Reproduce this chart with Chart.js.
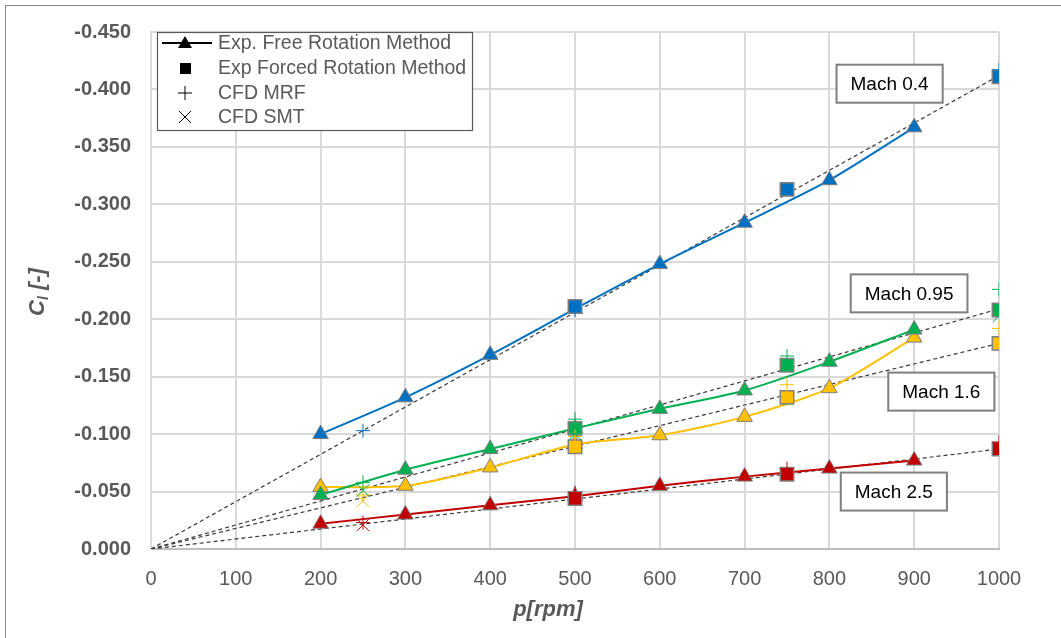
<!DOCTYPE html>
<html>
<head>
<meta charset="utf-8">
<script src="https://cdn.jsdelivr.net/npm/chart.js@4.4.0/dist/chart.umd.min.js"></script>
<style>
  html, body { margin: 0; padding: 0; background: #fff; }
  #wrap { position: relative; width: 1061px; height: 638px; }
  #frame { position: absolute; left: 5px; top: 5px; right: 0; bottom: 0; border-left: 1px solid #8c8c8c; border-top: 1px solid #8c8c8c; pointer-events: none; }
  canvas { position: absolute; left: 0; top: 0; }
</style>
</head>
<body>
<div id="wrap">
  <canvas id="chart" width="1061" height="638"></canvas>
  <div id="frame"></div>
</div>
<script>
// rpm values
const rpmFree = [200, 300, 400, 500, 600, 700, 800, 900];
const rpmForced = [500, 750, 1000];
const rpmCfd = [250, 500, 750, 1000];
const rpmTrend = [0, 1000];

// Exp. free rotation method
const freeM04 = [-0.100, -0.132, -0.169, -0.209, -0.248, -0.284, -0.321, -0.367];
const freeM095 = [-0.047, -0.069, -0.087, -0.105, -0.122, -0.138, -0.163, -0.191];
const freeM16 = [-0.054, -0.055, -0.071, -0.091, -0.099, -0.115, -0.140, -0.184];
const freeM25 = [-0.022, -0.030, -0.038, -0.046, -0.055, -0.063, -0.070, -0.077];

// Exp forced rotation method
const forcedM04 = [-0.211, -0.313, -0.411];
const forcedM095 = [-0.105, -0.160, -0.208];
const forcedM16 = [-0.089, -0.132, -0.179];
const forcedM25 = [-0.044, -0.065, -0.087];

// CFD MRF
const mrfM04 = [-0.103, -0.208, null, -0.417];
const mrfM095 = [-0.058, -0.113, -0.168, -0.226];
const mrfM16 = [-0.047, -0.098, -0.143, -0.192];
const mrfM25 = [-0.023, -0.049, -0.070, -0.093];

// CFD SMT
const smtM04 = [null, null, null, null];
const smtM095 = [-0.051, -0.100, null, -0.203];
const smtM16 = [-0.042, null, null, null];
const smtM25 = [-0.021, null, null, null];

// dashed trend lines through the origin
const trendM04 = [0, -0.412];
const trendM095 = [0, -0.209];
const trendM16 = [0, -0.179];
const trendM25 = [0, -0.087];

const machLabels = ['Mach 0.4', 'Mach 0.95', 'Mach 1.6', 'Mach 2.5'];
const yTicks = { min: -0.45, max: 0, step: 0.05 };
const xTicks = { min: 0, max: 1000, step: 100 };

const series = [
    { color: '#0070C0', free: freeM04, forced: forcedM04, mrf: mrfM04, smt: smtM04, trend: trendM04 },
    { color: '#00B050', free: freeM095, forced: forcedM095, mrf: mrfM095, smt: smtM095, trend: trendM095 },
    { color: '#FFC000', free: freeM16, forced: forcedM16, mrf: mrfM16, smt: smtM16, trend: trendM16 },
    { color: '#C00000', free: freeM25, forced: forcedM25, mrf: mrfM25, smt: smtM25, trend: trendM25 },
];

const pts = (xs, ys) => xs.map((x, i) => ({ x: x, y: ys[i] })).filter(p => p.y !== null);

const datasets = [];
series.forEach((s) => {
    datasets.push({
        data: pts(rpmTrend, s.trend), showLine: true, borderColor: '#3a3a3a', borderWidth: 1.2,
        borderDash: [4, 3], pointRadius: 0, order: 3,
    });
    datasets.push({
        data: pts(rpmFree, s.free), showLine: true, borderColor: s.color, borderWidth: 2, tension: 0.25,
        pointStyle: 'triangle', pointRadius: 9, backgroundColor: s.color, pointBorderColor: '#7f7f7f',
        pointBorderWidth: 1, order: 2,
    });
    datasets.push({
        data: pts(rpmForced, s.forced), showLine: false, pointStyle: 'rect', pointRadius: 9.5,
        backgroundColor: s.color, pointBorderColor: '#7f7f7f', pointBorderWidth: 1.5, order: 1,
    });
    datasets.push({
        data: pts(rpmCfd, s.mrf), showLine: false, pointStyle: 'cross', pointRadius: 7,
        borderColor: s.color, pointBorderWidth: 1, order: 0,
    });
    datasets.push({
        data: pts(rpmCfd, s.smt), showLine: false, pointStyle: 'crossRot', pointRadius: 9,
        borderColor: s.color, pointBorderWidth: 1, order: 0,
    });
});

const gray = '#595959';

// legend, axis titles and the Mach boxes
const extras = {
    id: 'extras',
    afterDraw(chart) {
        const ctx = chart.ctx;
        const xs = chart.scales.x;
        const ys = chart.scales.y;
        ctx.save();

        // legend box
        ctx.fillStyle = '#fff';
        ctx.fillRect(157, 32, 316, 99);
        ctx.strokeStyle = '#595959';
        ctx.lineWidth = 1.2;
        ctx.strokeRect(157.5, 32.5, 315, 98);
        const rows = ['Exp. Free Rotation Method', 'Exp Forced Rotation Method', 'CFD MRF', 'CFD SMT'];
        const rowY = [43, 68, 93, 117];
        ctx.font = '19.5px "Liberation Sans", Arial, sans-serif';
        ctx.textBaseline = 'middle';
        ctx.textAlign = 'left';
        rows.forEach((t, i) => {
            ctx.fillStyle = gray;
            ctx.fillText(t, 218, rowY[i] + 1);
        });
        ctx.strokeStyle = '#000';
        ctx.fillStyle = '#000';
        ctx.lineWidth = 2;
        ctx.beginPath(); ctx.moveTo(162, rowY[0]); ctx.lineTo(212, rowY[0]); ctx.stroke();
        ctx.beginPath(); ctx.moveTo(185, rowY[0] - 7); ctx.lineTo(192, rowY[0] + 5); ctx.lineTo(178, rowY[0] + 5); ctx.closePath(); ctx.fill();
        ctx.fillRect(180, rowY[1] - 5, 11, 11);
        ctx.lineWidth = 1;
        ctx.beginPath();
        ctx.moveTo(178, rowY[2]); ctx.lineTo(192, rowY[2]);
        ctx.moveTo(185, rowY[2] - 7); ctx.lineTo(185, rowY[2] + 7);
        ctx.moveTo(179, rowY[3] - 6); ctx.lineTo(191, rowY[3] + 6);
        ctx.moveTo(191, rowY[3] - 6); ctx.lineTo(179, rowY[3] + 6);
        ctx.stroke();

        // Mach boxes, centred on data positions
        const boxAt = [[871, -0.405], [894, -0.2225], [932, -0.137], [876, -0.050]];
        ctx.font = '19px "Liberation Sans", Arial, sans-serif';
        ctx.textAlign = 'center';
        machLabels.forEach((t, i) => {
            const cx = xs.getPixelForValue(boxAt[i][0]);
            const cy = ys.getPixelForValue(boxAt[i][1]);
            const w = ctx.measureText(t).width + 28;
            const h = 38;
            ctx.fillStyle = '#fff';
            ctx.fillRect(cx - w / 2, cy - h / 2, w, h);
            ctx.strokeStyle = '#7f7f7f';
            ctx.lineWidth = 2;
            ctx.strokeRect(cx - w / 2, cy - h / 2, w, h);
            ctx.fillStyle = '#000';
            ctx.fillText(t, cx, cy + 1);
        });

        // x title
        ctx.fillStyle = gray;
        ctx.font = 'italic bold 22px "Liberation Sans Narrow", "Liberation Sans", Arial, sans-serif';
        ctx.textAlign = 'center';
        ctx.fillText('p[rpm]', 548, 610);

        // y title with subscript
        ctx.translate(38, 292);
        ctx.rotate(-Math.PI / 2);
        const fBig = 'italic bold 22px "Liberation Sans", Arial, sans-serif';
        const fSub = 'italic bold 14px "Liberation Sans", Arial, sans-serif';
        ctx.font = fBig;
        const wC = ctx.measureText('C').width;
        const wR = ctx.measureText(' [-]').width;
        ctx.font = fSub;
        const wl = ctx.measureText('l').width;
        const x0 = -(wC + wl + wR) / 2;
        ctx.textAlign = 'left';
        ctx.font = fBig;
        ctx.fillText('C', x0, 0);
        ctx.font = fSub;
        ctx.fillText('l', x0 + wC, 6);
        ctx.font = fBig;
        ctx.fillText(' [-]', x0 + wC + wl, 0);
        ctx.restore();
    },
};

new Chart(document.getElementById('chart'), {
    type: 'scatter',
    data: { datasets: datasets },
    options: {
        responsive: false,
        animation: false,
        devicePixelRatio: 1,
        layout: { padding: { left: 0, right: 62, top: 25, bottom: 0 } },
        plugins: { legend: { display: false }, tooltip: { enabled: false } },
        scales: {
            x: {
                type: 'linear', min: xTicks.min, max: xTicks.max,
                ticks: {
                    stepSize: xTicks.step, padding: 18, color: gray,
                    font: { family: '"Liberation Sans Narrow", "Liberation Sans", Arial', size: 20 },
                    callback: (v) => String(v),
                },
                grid: { color: '#d9d9d9', lineWidth: 2, drawTicks: false },
                border: { color: '#bfbfbf', width: 2 },
                afterFit: (s) => { s.height = 89; },
            },
            y: {
                type: 'linear', min: yTicks.min, max: yTicks.max, reverse: true,
                ticks: {
                    stepSize: yTicks.step, padding: 20, color: gray,
                    font: { family: '"Liberation Sans", Arial', size: 20, weight: 'bold' },
                    callback: (v) => (Math.abs(v) < 1e-9 ? 0 : v).toFixed(3),
                },
                grid: { color: '#d9d9d9', lineWidth: 2, drawTicks: false },
                border: { color: '#d9d9d9', width: 2 },
                afterFit: (s) => { s.width = 151; },
            },
        },
    },
    plugins: [extras],
});
</script>
</body>
</html>
